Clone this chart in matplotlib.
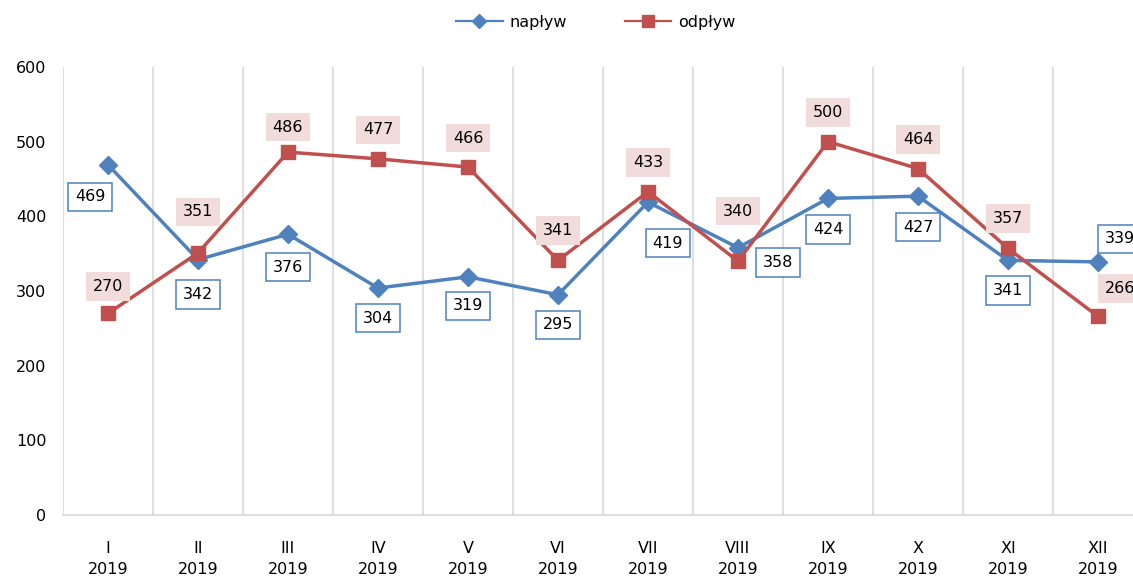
import matplotlib
matplotlib.use('Agg')
import matplotlib.pyplot as plt
from matplotlib.lines import Line2D
import numpy as np

months = ["I", "II", "III", "IV", "V", "VI", "VII", "VIII", "IX", "X", "XI", "XII"]
year = "2019"
naplyw = [469, 342, 376, 304, 319, 295, 419, 358, 424, 427, 341, 339]
odplyw = [270, 351, 486, 477, 466, 341, 433, 340, 500, 464, 357, 266]

# przesunięcia etykiet w pikselach (dx, dy), dy dodatnie = w górę
off_nap = [(-18, -32), (0, -35), (0, -33), (0, -30), (0, -29), (0, -30),
           (20, -41), (40, -15), (0, -31), (0, -31), (0, -30), (22, 23)]
off_odp = [(0, 27), (0, 41), (0, 25), (0, 29), (0, 29), (0, 30),
           (0, 29), (0, 50), (0, 29), (0, 29), (0, 30), (22, 28)]

BLUE = '#4F81BD'
RED = '#C0504D'
PINK = '#F2DCDB'
FONT = 'DejaVu Sans'
FS = 11.5

fig = plt.figure(figsize=(11.33, 5.79), dpi=100)
ax = fig.add_axes([63 / 1133, 64 / 579, 1080 / 1133, 448 / 579])

x = np.arange(len(months))
ax.plot(x, naplyw, color=BLUE, lw=2.5, marker='D', ms=9, mfc=BLUE, mec=BLUE, zorder=3)
ax.plot(x, odplyw, color=RED, lw=2.5, marker='s', ms=10, mfc=RED, mec=RED, zorder=3)

for i, v in enumerate(naplyw):
    ax.annotate(str(v), (x[i], v), xytext=off_nap[i], textcoords='offset pixels',
                ha='center', va='center', fontsize=FS, family=FONT, color='black',
                bbox=dict(boxstyle='square,pad=0.42', fc='white', ec=BLUE, lw=1.1),
                zorder=4, annotation_clip=False)
for i, v in enumerate(odplyw):
    ax.annotate(str(v), (x[i], v), xytext=off_odp[i], textcoords='offset pixels',
                ha='center', va='center', fontsize=FS, family=FONT, color='black',
                bbox=dict(boxstyle='square,pad=0.42', fc=PINK, ec='none'),
                zorder=4, annotation_clip=False)

ax.set_xlim(-0.5, len(months) - 0.5)
ax.set_ylim(0, 600)
ax.set_yticks(range(0, 601, 100))
ax.set_xticks(x)
ax.set_xticklabels([f"{m}\n{year}" for m in months], fontsize=FS, family=FONT,
                   linespacing=1.45)
for lbl in ax.get_yticklabels():
    lbl.set_fontsize(FS)
    lbl.set_family(FONT)

for b in np.arange(-0.5, len(months), 1.0):
    ax.axvline(b, color='#D9D9D9', lw=1.2, zorder=1)

for s in ['top', 'right', 'left']:
    ax.spines[s].set_visible(False)
ax.spines['bottom'].set_color('#D9D9D9')
ax.spines['bottom'].set_linewidth(1.2)
ax.tick_params(axis='both', length=0)
ax.tick_params(axis='y', pad=12)
ax.tick_params(axis='x', pad=19)

handles = [Line2D([], [], color=BLUE, lw=1.6, marker='D', ms=7, mfc=BLUE, mec=BLUE),
           Line2D([], [], color=RED, lw=1.6, marker='s', ms=8, mfc=RED, mec=RED)]
fig.legend(handles, ['napływ', 'odpływ'], loc='center', bbox_to_anchor=(0.526, 0.962),
           ncol=2, frameon=False, prop={'family': FONT, 'size': FS},
           handlelength=2.9, columnspacing=3.6, handletextpad=0.45)

fig.savefig('out.png', dpi=100)
